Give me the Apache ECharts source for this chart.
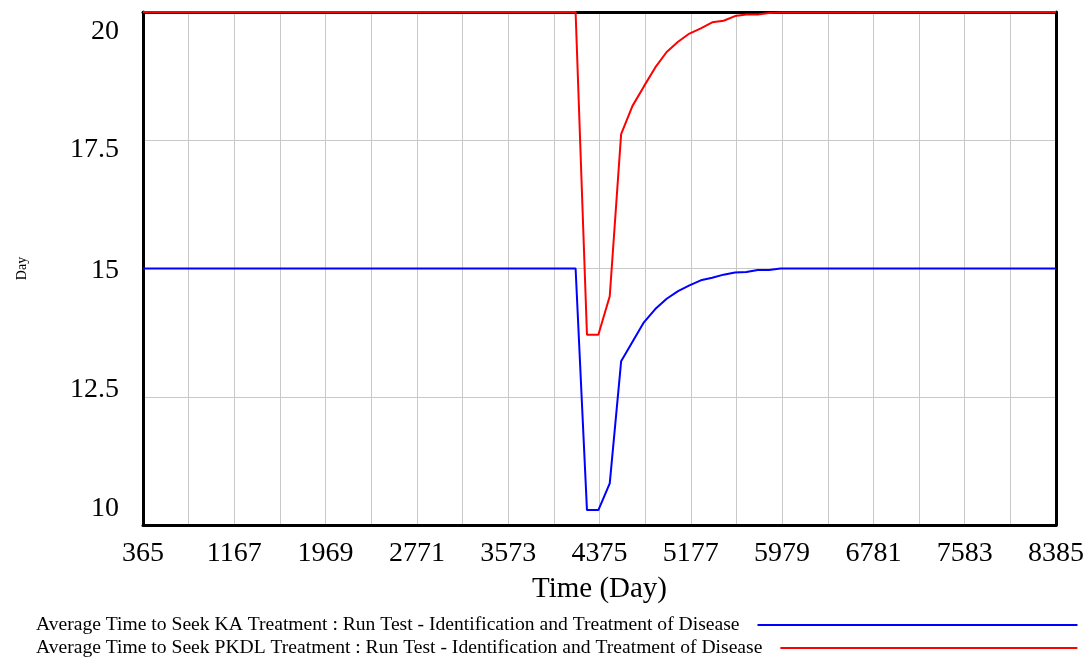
<!DOCTYPE html>
<html>
<head>
<meta charset="utf-8">
<script src="https://cdn.jsdelivr.net/npm/echarts@6/dist/echarts.min.js"></script>
<style>
html,body{margin:0;padding:0;background:#fff;}
#chart{width:1091px;height:659px;}
</style>
</head>
<body>
<div id="chart"></div>
<script>
// Time points (Day)
var timeDays = [365, 4165, 4265, 4365, 4465, 4565, 4665, 4765, 4865, 4965, 5065, 5165, 5265, 5365, 5465, 5565, 5665, 5765, 5865, 5965, 8385];
// Average Time to Seek KA Treatment
var kaValues = [15, 15, 10.29, 10.29, 10.81, 13.19, 13.57, 13.95, 14.21, 14.41, 14.56, 14.67, 14.77, 14.82, 14.88, 14.92, 14.93, 14.97, 14.97, 15, 15];
// Average Time to Seek PKDL Treatment
var pkdlValues = [20, 20, 13.71, 13.71, 14.46, 17.62, 18.17, 18.55, 18.92, 19.22, 19.42, 19.58, 19.68, 19.80, 19.83, 19.92, 19.95, 19.95, 19.98, 19.99, 20];
var seriesNames = [
  'Average Time to Seek KA Treatment : Run Test - Identification and Treatment of Disease',
  'Average Time to Seek PKDL Treatment : Run Test - Identification and Treatment of Disease'
];
var yTickLabels = {'10': '10', '12.5': '12.5', '15': '15', '17.5': '17.5', '20': '20'};

function pairs(xs, ys) {
  var out = [];
  for (var i = 0; i < xs.length; i++) out.push([xs[i], ys[i]]);
  return out;
}

var FONT = "'Liberation Serif', 'Times New Roman', serif";
var GRIDC = '#c8c8c8';
var BORDER = {show: true, onZero: false, lineStyle: {color: '#000', width: 3}};

var chart = echarts.init(document.getElementById('chart'), null, {renderer: 'canvas'});
var option = {
  animation: false,
  backgroundColor: '#ffffff',
  grid: {
    left: 143, right: 35, top: 12, bottom: 134,
    show: false
  },
  xAxis: [{
    type: 'value',
    position: 'bottom',
    min: 365, max: 8385, interval: 802,
    name: 'Time (Day)',
    nameLocation: 'middle',
    nameGap: 50,
    nameTextStyle: {fontFamily: FONT, fontSize: 29, color: '#000'},
    axisLine: BORDER,
    axisTick: {show: false},
    axisLabel: {fontFamily: FONT, fontSize: 28, color: '#000', margin: 15,
      formatter: function (v) { return String(Math.round(v)); }},
    splitLine: {show: true, showMinLine: false, showMaxLine: false, lineStyle: {color: GRIDC, width: 1}},
    minorTick: {show: false, splitNumber: 2},
    minorSplitLine: {show: true, lineStyle: {color: GRIDC, width: 1}}
  }, {
    type: 'value',
    position: 'top',
    min: 365, max: 8385, interval: 802,
    axisLine: BORDER,
    axisTick: {show: false},
    axisLabel: {show: false},
    splitLine: {show: false}
  }],
  yAxis: [{
    type: 'value',
    position: 'left',
    min: 10, max: 20, interval: 2.5,
    name: 'Day',
    nameLocation: 'middle',
    nameRotate: 90,
    nameGap: 114,
    nameTextStyle: {fontFamily: FONT, fontSize: 14, color: '#000'},
    axisLine: BORDER,
    axisTick: {show: false},
    axisLabel: {
      fontFamily: FONT, fontSize: 28, color: '#000', margin: 24,
      formatter: function (v) {
        var key = String(v);
        var map = {'10': 'a', '12.5': 'b', '15': 'c', '17.5': 'd', '20': 'e'};
        return '{' + map[key] + '|' + yTickLabels[key] + '}';
      },
      rich: {
        a: {fontFamily: FONT, fontSize: 28, color: '#000', padding: [0, 0, 32, 0]},
        b: {fontFamily: FONT, fontSize: 28, color: '#000', padding: [0, 0, 14, 0]},
        c: {fontFamily: FONT, fontSize: 28, color: '#000', padding: [4, 0, 0, 0]},
        d: {fontFamily: FONT, fontSize: 28, color: '#000', padding: [18, 0, 0, 0]},
        e: {fontFamily: FONT, fontSize: 28, color: '#000', padding: [40, 0, 0, 0]}
      }
    },
    splitLine: {show: true, showMinLine: false, showMaxLine: false, lineStyle: {color: GRIDC, width: 1}}
  }, {
    type: 'value',
    position: 'right',
    min: 10, max: 20, interval: 2.5,
    axisLine: BORDER,
    axisTick: {show: false},
    axisLabel: {show: false},
    splitLine: {show: false}
  }],
  legend: [
    {
      data: [seriesNames[0]],
      left: 36, top: 615,
      padding: 0,
      orient: 'horizontal',
      align: 'right',
      icon: 'rect',
      itemWidth: 320, itemHeight: 2,
      textStyle: {fontFamily: FONT, fontSize: 19.6, color: '#000', padding: [0, 13, 0, 0]},
      selectedMode: false
    },
    {
      data: [seriesNames[1]],
      left: 36, top: 638,
      padding: 0,
      orient: 'horizontal',
      align: 'right',
      icon: 'rect',
      itemWidth: 297, itemHeight: 2,
      textStyle: {fontFamily: FONT, fontSize: 19.6, color: '#000', padding: [0, 13, 0, 0]},
      selectedMode: false
    }
  ],
  series: [
    {
      name: seriesNames[0],
      type: 'line',
      data: pairs(timeDays, kaValues),
      symbol: 'none',
      lineStyle: {color: '#0000ff', width: 2},
      itemStyle: {color: '#0000ff'},
      z: 3
    },
    {
      name: seriesNames[1],
      type: 'line',
      data: pairs(timeDays, pkdlValues),
      symbol: 'none',
      clip: false,
      lineStyle: {color: '#ff0000', width: 2},
      itemStyle: {color: '#ff0000'},
      z: 4
    }
  ]
};
chart.setOption(option);
</script>
</body>
</html>
